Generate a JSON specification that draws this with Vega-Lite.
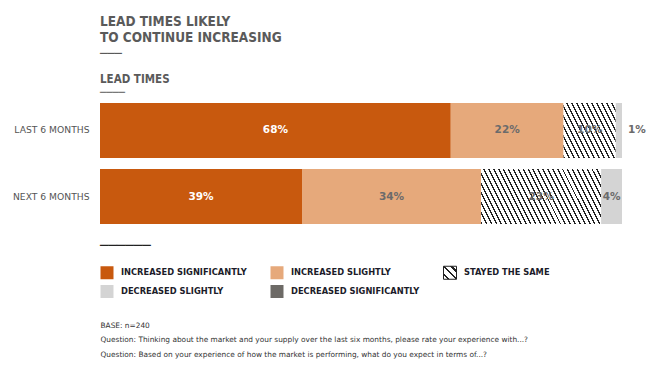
{
  "$schema": "https://vega.github.io/schema/vega-lite/v6.json",
  "width": 522,
  "height": 132,
  "autosize": "none",
  "padding": {"left": 100, "top": 97.5, "right": 26, "bottom": 135.5},
  "background": "#ffffff",
  "config": {"view": {"stroke": null}},
  "title": {
    "text": ["LEAD TIMES LIKELY", "TO CONTINUE INCREASING", "───"],
    "subtitle": ["LEAD TIMES", "────"],
    "anchor": "start",
    "frame": "group",
    "font": "Liberation Sans Narrow, DejaVu Sans Condensed, Roboto",
    "fontSize": 13.5,
    "fontWeight": "bold",
    "color": "#5a5a5a",
    "lineHeight": 16,
    "subtitleFont": "Liberation Sans Narrow, DejaVu Sans Condensed, Roboto",
    "subtitleFontSize": 11.5,
    "subtitleFontWeight": "bold",
    "subtitleColor": "#5a5a5a",
    "subtitleLineHeight": 13.5,
    "subtitlePadding": 13,
    "offset": -1
  },
  "data": {
    "values": [
      {"period": "LAST 6 MONTHS", "category": "INCREASED SIGNIFICANTLY", "rank": 1, "value": 67.2, "label": "68%"},
      {"period": "LAST 6 MONTHS", "category": "INCREASED SLIGHTLY", "rank": 2, "value": 21.6, "label": "22%"},
      {"period": "LAST 6 MONTHS", "category": "STAYED THE SAME", "rank": 3, "value": 10.0, "label": "10%"},
      {"period": "LAST 6 MONTHS", "category": "DECREASED SLIGHTLY", "rank": 4, "value": 1.2, "label": "1%"},
      {"period": "NEXT 6 MONTHS", "category": "INCREASED SIGNIFICANTLY", "rank": 1, "value": 38.7, "label": "39%"},
      {"period": "NEXT 6 MONTHS", "category": "INCREASED SLIGHTLY", "rank": 2, "value": 34.3, "label": "34%"},
      {"period": "NEXT 6 MONTHS", "category": "STAYED THE SAME", "rank": 3, "value": 23.0, "label": "23%"},
      {"period": "NEXT 6 MONTHS", "category": "DECREASED SLIGHTLY", "rank": 4, "value": 4.0, "label": "4%"}
    ]
  },
  "encoding": {
    "x": {
      "field": "value",
      "type": "quantitative",
      "stack": "zero",
      "scale": {"domain": [0, 100], "nice": false},
      "axis": {
        "title": [
          "BASE: n=240",
          "Question: Thinking about the market and your supply over the last six months, please rate your experience with...?",
          "Question: Based on your experience of how the market is performing, what do you expect in terms of...?"
        ],
        "titleAnchor": "start",
        "titleAlign": "left",
        "titleFont": "DejaVu Sans",
        "titleFontSize": 7.4,
        "titleFontWeight": "normal",
        "titleColor": "#333333",
        "titleLineHeight": 14.5,
        "titlePadding": 91.5,
        "domain": false,
        "ticks": false,
        "labels": false,
        "grid": false
      }
    },
    "y": {
      "field": "period",
      "type": "nominal",
      "sort": ["LAST 6 MONTHS", "NEXT 6 MONTHS"],
      "scale": {"paddingInner": 0.167, "paddingOuter": 0.083},
      "axis": {
        "title": null,
        "domain": false,
        "ticks": false,
        "labelPadding": 11,
        "labelFont": "DejaVu Sans",
        "labelFontSize": 9.2,
        "labelColor": "#555555"
      }
    },
    "order": {"field": "rank", "type": "quantitative"}
  },
  "layer": [
    {
      "mark": {"type": "bar"},
      "encoding": {
        "color": {
          "condition": [
            {
              "test": "datum.category === 'STAYED THE SAME' && datum.period === 'LAST 6 MONTHS'",
              "value": {
                "gradient": "linear", "x1": 0, "y1": 1, "x2": 1.195, "y2": 0.37,
                "stops": [
                  {"offset": 0, "color": "#222222"}, {"offset": 0.01875, "color": "#222222"}, {"offset": 0.01875, "color": "#ffffff"}, {"offset": 0.0625, "color": "#ffffff"},
                  {"offset": 0.0625, "color": "#222222"}, {"offset": 0.08125, "color": "#222222"}, {"offset": 0.08125, "color": "#ffffff"}, {"offset": 0.125, "color": "#ffffff"},
                  {"offset": 0.125, "color": "#222222"}, {"offset": 0.14375, "color": "#222222"}, {"offset": 0.14375, "color": "#ffffff"}, {"offset": 0.1875, "color": "#ffffff"},
                  {"offset": 0.1875, "color": "#222222"}, {"offset": 0.20625, "color": "#222222"}, {"offset": 0.20625, "color": "#ffffff"}, {"offset": 0.25, "color": "#ffffff"},
                  {"offset": 0.25, "color": "#222222"}, {"offset": 0.26875, "color": "#222222"}, {"offset": 0.26875, "color": "#ffffff"}, {"offset": 0.3125, "color": "#ffffff"},
                  {"offset": 0.3125, "color": "#222222"}, {"offset": 0.33125, "color": "#222222"}, {"offset": 0.33125, "color": "#ffffff"}, {"offset": 0.375, "color": "#ffffff"},
                  {"offset": 0.375, "color": "#222222"}, {"offset": 0.39375, "color": "#222222"}, {"offset": 0.39375, "color": "#ffffff"}, {"offset": 0.4375, "color": "#ffffff"},
                  {"offset": 0.4375, "color": "#222222"}, {"offset": 0.45625, "color": "#222222"}, {"offset": 0.45625, "color": "#ffffff"}, {"offset": 0.5, "color": "#ffffff"},
                  {"offset": 0.5, "color": "#222222"}, {"offset": 0.51875, "color": "#222222"}, {"offset": 0.51875, "color": "#ffffff"}, {"offset": 0.5625, "color": "#ffffff"},
                  {"offset": 0.5625, "color": "#222222"}, {"offset": 0.58125, "color": "#222222"}, {"offset": 0.58125, "color": "#ffffff"}, {"offset": 0.625, "color": "#ffffff"},
                  {"offset": 0.625, "color": "#222222"}, {"offset": 0.64375, "color": "#222222"}, {"offset": 0.64375, "color": "#ffffff"}, {"offset": 0.6875, "color": "#ffffff"},
                  {"offset": 0.6875, "color": "#222222"}, {"offset": 0.70625, "color": "#222222"}, {"offset": 0.70625, "color": "#ffffff"}, {"offset": 0.75, "color": "#ffffff"},
                  {"offset": 0.75, "color": "#222222"}, {"offset": 0.76875, "color": "#222222"}, {"offset": 0.76875, "color": "#ffffff"}, {"offset": 0.8125, "color": "#ffffff"},
                  {"offset": 0.8125, "color": "#222222"}, {"offset": 0.83125, "color": "#222222"}, {"offset": 0.83125, "color": "#ffffff"}, {"offset": 0.875, "color": "#ffffff"},
                  {"offset": 0.875, "color": "#222222"}, {"offset": 0.89375, "color": "#222222"}, {"offset": 0.89375, "color": "#ffffff"}, {"offset": 0.9375, "color": "#ffffff"},
                  {"offset": 0.9375, "color": "#222222"}, {"offset": 0.95625, "color": "#222222"}, {"offset": 0.95625, "color": "#ffffff"}, {"offset": 1, "color": "#ffffff"}
                ]
              }
            },
            {
              "test": "datum.category === 'STAYED THE SAME' && datum.period === 'NEXT 6 MONTHS'",
              "value": {
                "gradient": "linear", "x1": 0, "y1": 1, "x2": 1.168, "y2": 0.732,
                "stops": [
                  {"offset": 0, "color": "#222222"}, {"offset": 0.01, "color": "#222222"}, {"offset": 0.01, "color": "#ffffff"}, {"offset": 0.0333, "color": "#ffffff"},
                  {"offset": 0.0333, "color": "#222222"}, {"offset": 0.0433, "color": "#222222"}, {"offset": 0.0433, "color": "#ffffff"}, {"offset": 0.0667, "color": "#ffffff"},
                  {"offset": 0.0667, "color": "#222222"}, {"offset": 0.0767, "color": "#222222"}, {"offset": 0.0767, "color": "#ffffff"}, {"offset": 0.1, "color": "#ffffff"},
                  {"offset": 0.1, "color": "#222222"}, {"offset": 0.11, "color": "#222222"}, {"offset": 0.11, "color": "#ffffff"}, {"offset": 0.1333, "color": "#ffffff"},
                  {"offset": 0.1333, "color": "#222222"}, {"offset": 0.1433, "color": "#222222"}, {"offset": 0.1433, "color": "#ffffff"}, {"offset": 0.1667, "color": "#ffffff"},
                  {"offset": 0.1667, "color": "#222222"}, {"offset": 0.1767, "color": "#222222"}, {"offset": 0.1767, "color": "#ffffff"}, {"offset": 0.2, "color": "#ffffff"},
                  {"offset": 0.2, "color": "#222222"}, {"offset": 0.21, "color": "#222222"}, {"offset": 0.21, "color": "#ffffff"}, {"offset": 0.2333, "color": "#ffffff"},
                  {"offset": 0.2333, "color": "#222222"}, {"offset": 0.2433, "color": "#222222"}, {"offset": 0.2433, "color": "#ffffff"}, {"offset": 0.2667, "color": "#ffffff"},
                  {"offset": 0.2667, "color": "#222222"}, {"offset": 0.2767, "color": "#222222"}, {"offset": 0.2767, "color": "#ffffff"}, {"offset": 0.3, "color": "#ffffff"},
                  {"offset": 0.3, "color": "#222222"}, {"offset": 0.31, "color": "#222222"}, {"offset": 0.31, "color": "#ffffff"}, {"offset": 0.3333, "color": "#ffffff"},
                  {"offset": 0.3333, "color": "#222222"}, {"offset": 0.3433, "color": "#222222"}, {"offset": 0.3433, "color": "#ffffff"}, {"offset": 0.3667, "color": "#ffffff"},
                  {"offset": 0.3667, "color": "#222222"}, {"offset": 0.3767, "color": "#222222"}, {"offset": 0.3767, "color": "#ffffff"}, {"offset": 0.4, "color": "#ffffff"},
                  {"offset": 0.4, "color": "#222222"}, {"offset": 0.41, "color": "#222222"}, {"offset": 0.41, "color": "#ffffff"}, {"offset": 0.4333, "color": "#ffffff"},
                  {"offset": 0.4333, "color": "#222222"}, {"offset": 0.4433, "color": "#222222"}, {"offset": 0.4433, "color": "#ffffff"}, {"offset": 0.4667, "color": "#ffffff"},
                  {"offset": 0.4667, "color": "#222222"}, {"offset": 0.4767, "color": "#222222"}, {"offset": 0.4767, "color": "#ffffff"}, {"offset": 0.5, "color": "#ffffff"},
                  {"offset": 0.5, "color": "#222222"}, {"offset": 0.51, "color": "#222222"}, {"offset": 0.51, "color": "#ffffff"}, {"offset": 0.5333, "color": "#ffffff"},
                  {"offset": 0.5333, "color": "#222222"}, {"offset": 0.5433, "color": "#222222"}, {"offset": 0.5433, "color": "#ffffff"}, {"offset": 0.5667, "color": "#ffffff"},
                  {"offset": 0.5667, "color": "#222222"}, {"offset": 0.5767, "color": "#222222"}, {"offset": 0.5767, "color": "#ffffff"}, {"offset": 0.6, "color": "#ffffff"},
                  {"offset": 0.6, "color": "#222222"}, {"offset": 0.61, "color": "#222222"}, {"offset": 0.61, "color": "#ffffff"}, {"offset": 0.6333, "color": "#ffffff"},
                  {"offset": 0.6333, "color": "#222222"}, {"offset": 0.6433, "color": "#222222"}, {"offset": 0.6433, "color": "#ffffff"}, {"offset": 0.6667, "color": "#ffffff"},
                  {"offset": 0.6667, "color": "#222222"}, {"offset": 0.6767, "color": "#222222"}, {"offset": 0.6767, "color": "#ffffff"}, {"offset": 0.7, "color": "#ffffff"},
                  {"offset": 0.7, "color": "#222222"}, {"offset": 0.71, "color": "#222222"}, {"offset": 0.71, "color": "#ffffff"}, {"offset": 0.7333, "color": "#ffffff"},
                  {"offset": 0.7333, "color": "#222222"}, {"offset": 0.7433, "color": "#222222"}, {"offset": 0.7433, "color": "#ffffff"}, {"offset": 0.7667, "color": "#ffffff"},
                  {"offset": 0.7667, "color": "#222222"}, {"offset": 0.7767, "color": "#222222"}, {"offset": 0.7767, "color": "#ffffff"}, {"offset": 0.8, "color": "#ffffff"},
                  {"offset": 0.8, "color": "#222222"}, {"offset": 0.81, "color": "#222222"}, {"offset": 0.81, "color": "#ffffff"}, {"offset": 0.8333, "color": "#ffffff"},
                  {"offset": 0.8333, "color": "#222222"}, {"offset": 0.8433, "color": "#222222"}, {"offset": 0.8433, "color": "#ffffff"}, {"offset": 0.8667, "color": "#ffffff"},
                  {"offset": 0.8667, "color": "#222222"}, {"offset": 0.8767, "color": "#222222"}, {"offset": 0.8767, "color": "#ffffff"}, {"offset": 0.9, "color": "#ffffff"},
                  {"offset": 0.9, "color": "#222222"}, {"offset": 0.91, "color": "#222222"}, {"offset": 0.91, "color": "#ffffff"}, {"offset": 0.9333, "color": "#ffffff"},
                  {"offset": 0.9333, "color": "#222222"}, {"offset": 0.9433, "color": "#222222"}, {"offset": 0.9433, "color": "#ffffff"}, {"offset": 0.9667, "color": "#ffffff"},
                  {"offset": 0.9667, "color": "#222222"}, {"offset": 0.9767, "color": "#222222"}, {"offset": 0.9767, "color": "#ffffff"}, {"offset": 1, "color": "#ffffff"}
                ]
              }
            }
          ],
          "field": "category",
          "type": "nominal",
          "scale": {
            "domain": ["INCREASED SIGNIFICANTLY", "INCREASED SLIGHTLY", "STAYED THE SAME", "DECREASED SLIGHTLY", "DECREASED SIGNIFICANTLY"],
            "range": [
              "#C8590E",
              "#E6A97B",
              {"expr": "{gradient: 'linear', x1: 0, y1: 1, x2: 1, y2: 0, stops: [{offset: 0, color: '#ffffff'}, {offset: 0.16, color: '#ffffff'}, {offset: 0.16, color: '#222222'}, {offset: 0.25, color: '#222222'}, {offset: 0.25, color: '#ffffff'}, {offset: 0.455, color: '#ffffff'}, {offset: 0.455, color: '#222222'}, {offset: 0.545, color: '#222222'}, {offset: 0.545, color: '#ffffff'}, {offset: 0.75, color: '#ffffff'}, {offset: 0.75, color: '#222222'}, {offset: 0.84, color: '#222222'}, {offset: 0.84, color: '#ffffff'}, {offset: 1, color: '#ffffff'}]}"},
              "#D4D4D4",
              "#6D6A66"
            ]
          },
          "legend": {
            "orient": "none",
            "legendX": 0,
            "legendY": 141.5,
            "direction": "horizontal",
            "columns": 3,
            "gridAlign": "each",
            "columnPadding": 21,
            "rowPadding": 1,
            "symbolType": "square",
            "symbolSize": 169,
            "symbolStrokeWidth": 1,
            "labelFont": "DejaVu Sans",
            "labelFontSize": 8.3,
            "labelFontWeight": "bold",
            "labelColor": "#1c1c2a",
            "labelOffset": 7,
            "labelLimit": 300,
            "title": "──────",
            "titleFont": "DejaVu Sans",
            "titleFontSize": 14,
            "titleFontWeight": "normal",
            "titleColor": "#222222",
            "titlePadding": 12.5,
            "encode": {
              "symbols": {
                "update": {
                  "stroke": {"signal": "datum.value === 'STAYED THE SAME' ? '#222222' : 'transparent'"},
                  "strokeWidth": {"value": 1}
                }
              }
            }
          }
        }
      }
    },
    {
      "mark": {"type": "text", "font": "DejaVu Sans", "fontSize": 10.5, "fontWeight": "bold"},
      "encoding": {
        "x": {"field": "value", "type": "quantitative", "stack": "zero", "bandPosition": 0.5},
        "detail": {"field": "category", "type": "nominal"},
        "text": {"condition": {"test": "datum.value >= 3", "field": "label"}, "value": ""},
        "color": {"condition": {"test": "datum.category === 'INCREASED SIGNIFICANTLY'", "value": "#ffffff"}, "value": "#6b6b6b"}
      }
    },
    {
      "mark": {"type": "text", "font": "DejaVu Sans", "fontSize": 10.5, "fontWeight": "bold", "align": "left", "dx": 6, "color": "#6b6b6b"},
      "encoding": {
        "detail": {"field": "category", "type": "nominal"},
        "text": {"condition": {"test": "datum.value < 3", "field": "label"}, "value": ""}
      }
    }
  ]
}
